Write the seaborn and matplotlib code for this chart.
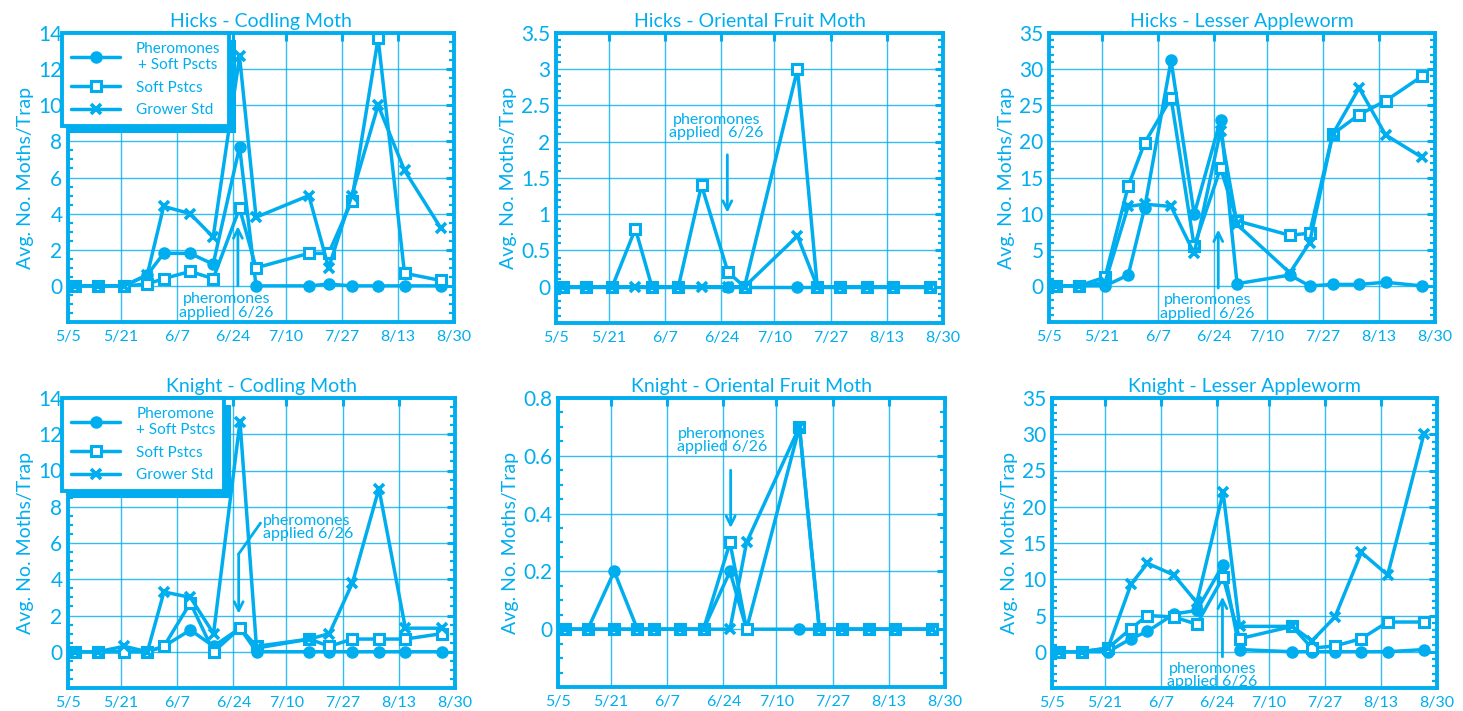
import matplotlib
matplotlib.use("Agg")
import matplotlib.pyplot as plt
import seaborn as sns
import pandas as pd
from matplotlib.ticker import MultipleLocator, FuncFormatter
from matplotlib.patches import Rectangle

BLUE = "#00AEEF"
NA = float("nan")

# trap check dates (day of year) and x axis ticks
days = [127, 134, 142, 149, 154, 162, 169, 177, 182, 198, 204, 211, 219, 227, 238]
tick_days = [125, 141, 158, 175, 191, 208, 225, 242]
tick_labels = ["5/5", "5/21", "6/7", "6/24", "7/10", "7/27", "8/13", "8/30"]

hicks_cm_pher = [0, 0, 0, 0.6, 1.8, 1.8, 1.2, 7.7, 0, 0, 0.1, 0, 0, 0, 0]
hicks_cm_soft = [0, 0, 0, 0.1, 0.4, 0.8, 0.4, 4.3, 1.0, 1.8, 1.8, 4.7, 13.7, 0.7, 0.3]
hicks_cm_grow = [0, 0, 0, 0.6, 4.4, 4.0, 2.7, 12.7, 3.8, 5.0, 1.0, 5.0, 10.0, 6.4, 3.2]

hicks_ofm_pher = [0, 0, 0, NA, 0, 0, NA, 0, 0, 0, 0, 0, 0, 0, 0]
hicks_ofm_soft = [0, 0, 0, 0.8, 0, 0, 1.4, 0.2, 0, 3.0, 0, 0, 0, 0, 0]
hicks_ofm_grow = [0, 0, 0, 0, 0, 0, 0, 0, 0, 0.7, 0, 0, 0, 0, 0]

hicks_law_pher = [0, 0, 0, 1.5, 10.8, 31.2, 9.9, 23.0, 0.3, 1.5, 0, 0.2, 0.2, 0.5, 0]
hicks_law_soft = [0, 0, 1.2, 13.8, 19.8, 26.0, 5.5, 16.3, 9.0, 7.0, 7.3, 21.0, 23.7, 25.6, 29.0]
hicks_law_grow = [0, 0, 0.5, 11.0, 11.3, 11.0, 4.5, 21.5, 8.5, 1.8, 6.0, 21.0, 27.4, 20.9, 17.8]

knight_cm_pher = [0, 0, 0, 0, 0.3, 1.2, 0.3, 1.3, 0, 0, 0, 0, 0, 0, 0]
knight_cm_soft = [0, 0, 0, 0, 0.3, 2.7, 0, 1.3, 0.3, 0.7, 0.3, 0.7, 0.7, 0.7, 1.0]
knight_cm_grow = [0, 0, 0.3, 0, 3.3, 3.0, 1.0, 12.7, 0.2, 0.7, 1.0, 3.8, 9.0, 1.3, 1.3]

knight_ofm_pher = [0, 0, 0.2, 0, 0, 0, 0, 0.2, 0, 0, 0, 0, 0, 0, 0]
knight_ofm_soft = [0, 0, 0, 0, 0, 0, 0, 0.3, 0, 0.7, 0, 0, 0, 0, 0]
knight_ofm_grow = [0, 0, 0, 0, 0, 0, 0, 0, 0.3, 0.7, 0, 0, 0, 0, 0]

knight_law_pher = [0, 0, 0, 1.8, 2.8, 5.2, 5.7, 12.0, 0.3, 0, 0, 0, 0, 0, 0.3]
knight_law_soft = [0, 0, 0.5, 3.2, 5.0, 4.8, 3.8, 10.3, 1.8, 3.5, 0.5, 0.8, 1.8, 4.1, 4.1]
knight_law_grow = [0, 0, 0.5, 9.3, 12.2, 10.6, 6.8, 22.0, 3.5, 3.5, 1.5, 4.8, 13.7, 10.6, 30.0]

hicks_labels = ["Pheromones\n+ Soft Pscts", "Soft Pstcs", "Grower Std"]
knight_labels = ["Pheromone\n+ Soft Pstcs", "Soft Pstcs", "Grower Std"]

sns.set_style("white")
plt.rcParams["font.family"] = ["Lato", "DejaVu Sans"]

fig = plt.figure(figsize=(14.63, 7.11), dpi=100)

W, H = 1463, 711
def box(l, r, t, b):
    return [l / W, 1 - b / H, (r - l) / W, (b - t) / H]

panels = [
    dict(pos=box(68, 454, 33, 322), title="Hicks - Codling Moth",
         series=(hicks_cm_pher, hicks_cm_soft, hicks_cm_grow), ylim=(-2, 14), step=2, minor=0.5,
         labels=hicks_labels),
    dict(pos=box(556, 943, 33, 323), title="Hicks - Oriental Fruit Moth",
         series=(hicks_ofm_pher, hicks_ofm_soft, hicks_ofm_grow), ylim=(-0.5, 3.5), step=0.5, minor=0.1,
         labels=None),
    dict(pos=box(1049, 1435, 33, 322), title="Hicks - Lesser Appleworm",
         series=(hicks_law_pher, hicks_law_soft, hicks_law_grow), ylim=(-5, 35), step=5, minor=1,
         labels=None),
    dict(pos=box(68, 455, 398, 688), title="Knight - Codling Moth",
         series=(knight_cm_pher, knight_cm_soft, knight_cm_grow), ylim=(-2, 14), step=2, minor=0.5,
         labels=knight_labels),
    dict(pos=box(558, 945, 398, 687), title="Knight - Oriental Fruit Moth",
         series=(knight_ofm_pher, knight_ofm_soft, knight_ofm_grow), ylim=(-0.2, 0.8), step=0.2, minor=0.05,
         labels=None),
    dict(pos=box(1052, 1437, 398, 688), title="Knight - Lesser Appleworm",
         series=(knight_law_pher, knight_law_soft, knight_law_grow), ylim=(-5, 35), step=5, minor=1,
         labels=None),
]

styles = [
    dict(marker="o", ms=8, mfc=BLUE, mec=BLUE, mew=1),
    dict(marker="s", ms=7, mfc="white", mec=BLUE, mew=2.2),
    dict(marker="x", ms=7.5, mfc=BLUE, mec=BLUE, mew=2.6),
]

axes = []
for p in panels:
    ax = fig.add_axes(p["pos"])
    axes.append(ax)
    for i, (vals, st) in enumerate(zip(p["series"], styles)):
        df = pd.DataFrame({"day": days, "value": vals})
        lab = p["labels"][i] if p["labels"] else None
        sns.lineplot(data=df, x="day", y="value", ax=ax, color=BLUE, lw=2.5,
                     label=lab, legend=bool(lab), errorbar=None, zorder=3, **st)
    lo, hi = p["ylim"]
    ax.set_xlim(125, 242)
    ax.set_ylim(lo, hi)
    step = p["step"]
    n = int(round(hi / step))
    ax.set_yticks([k * step for k in range(n + 1)])
    ax.yaxis.set_major_formatter(FuncFormatter(lambda v, _: "{:g}".format(round(v, 2))))
    ax.yaxis.set_minor_locator(MultipleLocator(p["minor"]))
    ax.set_xticks(tick_days)
    ax.set_xticklabels(tick_labels)
    ax.grid(True, which="major", color=BLUE, lw=1.0, alpha=0.8)
    for s in ax.spines.values():
        s.set_color(BLUE)
        s.set_linewidth(2.8)
    ax.tick_params(which="major", direction="in", length=6, width=2.2, color=BLUE,
                   labelcolor=BLUE, top=True, right=True, pad=5)
    ax.tick_params(axis="y", which="major", labelsize=15, pad=4)
    ax.tick_params(axis="x", which="major", labelsize=11.5, pad=6)
    ax.tick_params(axis="y", which="minor", direction="in", length=3.5, width=1.6,
                   color=BLUE, left=True, right=True)
    ax.set_title(p["title"], color=BLUE, fontsize=14, pad=4)
    ax.set_xlabel("")
    ax.set_ylabel("Avg. No. Moths/Trap", color=BLUE, fontsize=14, labelpad=3)

# pheromone application notes
def note(ax, x, y, text, ha="center"):
    ax.text(x, y, text, color=BLUE, fontsize=11.5, ha=ha, va="top", linespacing=0.95, zorder=6)

def arrow(ax, x, y_from, y_to):
    ax.annotate("", xy=(x, y_to), xytext=(x, y_from),
                arrowprops=dict(arrowstyle="->", color=BLUE, lw=2, mutation_scale=16,
                                shrinkA=0, shrinkB=0), zorder=6)

note(axes[0], 173, -0.35, "pheromones\napplied  6/26")
arrow(axes[0], 176.5, 0, 3.3)
note(axes[1], 173.5, 2.4, "pheromones\napplied  6/26")
arrow(axes[1], 176.8, 1.82, 1.02)
note(axes[2], 173, -1.0, "pheromones\napplied  6/26")
arrow(axes[2], 176.3, -0.3, 7.8)
note(axes[3], 184, 7.6, "pheromones\napplied 6/26", ha="left")
axes[3].plot([183.2, 176.6], [7.1, 5.4], color=BLUE, lw=2, zorder=6)
arrow(axes[3], 176.6, 5.4, 2.1)
note(axes[4], 174.5, 0.7, "pheromones\napplied 6/26")
arrow(axes[4], 177.2, 0.55, 0.35)
note(axes[5], 173.8, -1.4, "pheromones\napplied 6/26")
arrow(axes[5], 176.8, -0.7, 7.6)

legends = []
for ax in (axes[0], axes[3]):
    leg = ax.legend(loc="upper left", bbox_to_anchor=(-0.015, 1.0), borderaxespad=0,
                    fancybox=False, frameon=True, handlelength=3.2, fontsize=11,
                    labelcolor=BLUE, borderpad=0.6, labelspacing=0.55, handletextpad=1.0)
    fr = leg.get_frame()
    fr.set_edgecolor(BLUE)
    fr.set_linewidth(2.8)
    fr.set_facecolor("white")
    fr.set_alpha(1)
    for t in leg.get_texts():
        t.set_multialignment("center")
    leg.set_zorder(7)
    legends.append((ax, leg))

fig.canvas.draw()
inv = fig.transFigure.inverted()
for ax, leg in legends:
    bb = leg.get_window_extent().transformed(inv)
    dx, dy = 7 / W, 7 / H
    sh = Rectangle((bb.x0 + dx, bb.y0 - dy), bb.width, bb.height, transform=fig.transFigure,
                   facecolor=BLUE, edgecolor="none", zorder=6.5)
    ax.add_artist(sh)
    sh.set_clip_on(False)

fig.savefig("out.png", dpi=100)
